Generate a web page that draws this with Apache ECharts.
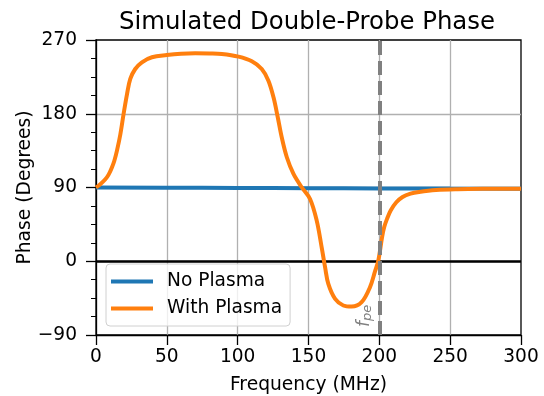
<!DOCTYPE html>
<html>
<head>
<meta charset="utf-8">
<script src="https://cdn.jsdelivr.net/npm/echarts@6/dist/echarts.min.js"></script>
<style>html,body{margin:0;padding:0;background:#fff}#c{width:544px;height:396px}</style>
</head>
<body>
<div id="c"></div>
<script>
var xTicks = [0, 50, 100, 150, 200, 250, 300];
var yTicks = [-90, 0, 90, 180, 270];

var freqNoPlasma = [0, 50, 100, 150, 200, 250, 300];
var phaseNoPlasma = [90.1, 89.8, 89.5, 89.2, 88.9, 88.7, 88.5];

var freqWithPlasma = [0, 3, 6.6, 9, 11.3, 13, 14.8, 17.2, 19.5, 21.9, 24.2, 27.7, 32.4, 39.5, 50, 60, 70, 80, 88.8, 100.6, 110, 117, 121.7, 125.3, 128.3, 131.1, 134.7, 139.4, 145.2, 151.1, 155.8, 159.3, 161.7, 164, 168.8, 174.6, 180.5, 187.5, 193.4, 197, 199.2, 202, 203.5, 205.5, 208, 212, 216.4, 222, 228, 240, 255, 275, 300];
var phaseWithPlasma = [90, 94, 100, 106, 114.7, 123, 135, 155, 180, 204, 222.5, 234.6, 242.8, 249, 251.7, 253.3, 253.8, 253.6, 253, 249.7, 244, 234.6, 220.4, 200, 175.7, 151.3, 126.9, 106.5, 90.3, 76, 49.6, 17, -7.3, -27.7, -46, -54, -55.3, -50, -31.7, -12, 0, 30, 42, 52, 62, 72, 78.5, 82.5, 84.6, 87, 88, 88.4, 88.5];

var fpe = 200;

function pairs(xs, ys) { return xs.map(function (x, i) { return [x, ys[i]]; }); }

var font = 'DejaVu Sans';
var chart = echarts.init(document.getElementById('c'), null, {renderer: 'canvas'});
chart.setOption({
  animation: false,
  backgroundColor: '#fff',
  title: {
    text: 'Simulated Double-Probe Phase',
    left: 302, top: 6, textAlign: 'center',
    textStyle: {fontFamily: font, fontSize: 24.4, fontWeight: 'normal', color: '#000'}
  },
  grid: {left: 96, right: 23, top: 40, bottom: 61, show: true, borderColor: '#000', borderWidth: 1.3, backgroundColor: 'transparent', outerBoundsMode: 'none', containLabel: false},
  legend: {
    orient: 'vertical', left: 106, top: 264,
    padding: [8, 8, 8, 5], itemGap: 8,
    itemWidth: 42, itemHeight: 4, icon: 'rect',
    backgroundColor: 'rgba(255,255,255,0.8)', borderColor: '#d0d0d0', borderWidth: 1, borderRadius: 4,
    textStyle: {fontFamily: font, fontSize: 18.6, color: '#000', padding: [0, 0, 0, 9], lineHeight: 19},
    data: ['No Plasma', 'With Plasma']
  },
  xAxis: {
    type: 'value', min: xTicks[0], max: xTicks[xTicks.length - 1], interval: 50,
    name: 'Frequency (MHz)', nameLocation: 'middle', nameGap: 41, nameMoveOverlap: false,
    nameTextStyle: {fontFamily: font, fontSize: 18.7, color: '#000'},
    axisLine: {show: true, onZero: false, lineStyle: {color: '#000', width: 1.3}},
    axisTick: {show: true, length: 10, lineStyle: {color: '#000', width: 1.3}},
    axisLabel: {fontFamily: font, fontSize: 18.6, color: '#000', margin: 13},
    splitLine: {show: true, showMinLine: false, showMaxLine: false, lineStyle: {color: '#b0b0b0', width: 1.3}}
  },
  yAxis: {
    type: 'value', min: yTicks[0], max: yTicks[yTicks.length - 1], interval: 90,
    name: 'Phase (Degrees)', nameLocation: 'middle', nameGap: 61, nameMoveOverlap: false,
    nameTextStyle: {fontFamily: font, fontSize: 18.7, color: '#000'},
    axisLine: {show: true, onZero: false, lineStyle: {color: '#000', width: 1.3}},
    axisTick: {show: true, length: 10, lineStyle: {color: '#000', width: 1.3}},
    minorTick: {show: true, splitNumber: 4, length: 5, lineStyle: {color: '#000', width: 1}},
    axisLabel: {fontFamily: font, fontSize: 18.6, color: '#000', margin: 19,
      formatter: function (v) { return String(v).replace('-', '\u2212'); }},
    splitLine: {show: true, showMinLine: false, showMaxLine: false, lineStyle: {color: '#b0b0b0', width: 1.3}}
  },
  series: [
    {
      name: 'No Plasma', type: 'line', data: pairs(freqNoPlasma, phaseNoPlasma),
      showSymbol: false, symbol: 'none', smooth: true, z: 3,
      lineStyle: {color: '#1f77b4', width: 4}, itemStyle: {color: '#1f77b4'},
      markLine: {
        silent: true, symbol: 'none', z: 2,
        lineStyle: {color: '#000', width: 2.5, type: 'solid'},
        label: {show: false},
        data: [{yAxis: 0}]
      }
    },
    {
      name: 'With Plasma', type: 'line', data: pairs(freqWithPlasma, phaseWithPlasma),
      showSymbol: false, symbol: 'none', smooth: 0.35, z: 4,
      lineStyle: {color: '#ff7f0e', width: 4}, itemStyle: {color: '#ff7f0e'}
    },
    {
      name: 'fpe', type: 'line', data: [], z: 3,
      markLine: {
        silent: true, symbol: 'none',
        lineStyle: {color: '#808080', width: 4, type: [14, 6]},
        label: {
          show: true, position: 'insideStartTop', distance: [8, 5],
          formatter: '{f|f}{s|pe}',
          rich: {
            f: {fontFamily: font, fontStyle: 'italic', fontSize: 17, color: '#808080'},
            s: {fontFamily: font, fontStyle: 'italic', fontSize: 13, color: '#808080', verticalAlign: 'bottom', padding: [6, 0, 0, 0]}
          }
        },
        data: [{xAxis: fpe}]
      }
    }
  ]
});
</script>
</body>
</html>
